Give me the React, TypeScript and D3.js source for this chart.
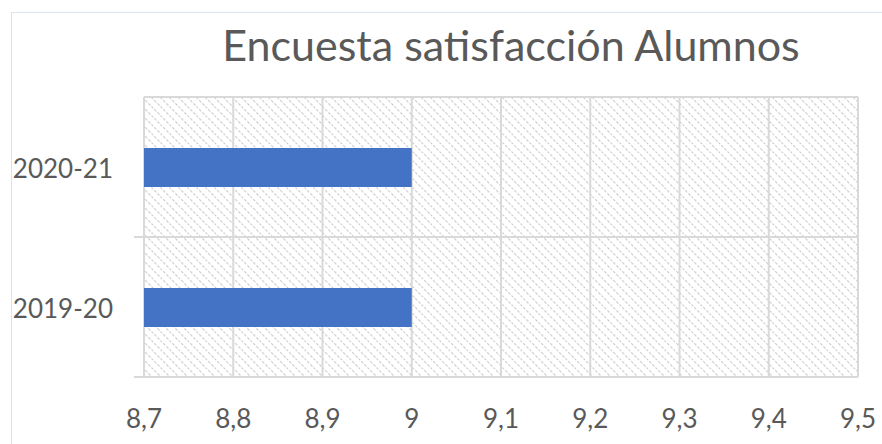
import React, { useEffect, useRef } from 'react';
import * as d3 from 'd3';

const categories = ['2020-21', '2019-20'];
const values = [9, 9];
const xTicks = [8.7, 8.8, 8.9, 9, 9.1, 9.2, 9.3, 9.4, 9.5];
const title = 'Encuesta satisfacción Alumnos';

const W = 882;
const H = 444;

export default function App() {
  const svgRef = useRef<SVGSVGElement>(null);

  useEffect(() => {
    if (!svgRef.current) return;
    const svg = d3.select(svgRef.current);
    svg.selectAll('*').remove();

    const margin = { top: 97, right: 24, bottom: 67, left: 144 };
    const font = "Lato, 'Open Sans', sans-serif";

    const x = d3.scaleLinear()
      .domain([8.7, 9.5])
      .range([margin.left, W - margin.right]);

    const y = d3.scaleBand()
      .domain(categories)
      .range([margin.top, H - margin.bottom])
      .paddingInner(0)
      .paddingOuter(0);

    // hatch pattern for plot background
    const defs = svg.append('defs');
    const pat = defs.append('pattern')
      .attr('id', 'hatch')
      .attr('patternUnits', 'userSpaceOnUse')
      .attr('width', 9)
      .attr('height', 9);
    pat.append('rect').attr('width', 9).attr('height', 9).attr('fill', '#fff');
    pat.append('path')
      .attr('d', 'M-2,-2 L11,11 M-2,7 L2,11 M7,-2 L11,2')
      .attr('stroke', '#d0d0d0')
      .attr('stroke-width', 1.2)
      .attr('stroke-dasharray', '3,1.5');

    // outer chart frame
    svg.append('rect')
      .attr('x', 11.5)
      .attr('y', 12.5)
      .attr('width', W + 10)
      .attr('height', H + 10)
      .attr('fill', '#fff')
      .attr('stroke', '#dae3f3')
      .attr('stroke-width', 1);

    svg.append('rect')
      .attr('x', margin.left)
      .attr('y', margin.top)
      .attr('width', x(9.5) - x(8.7))
      .attr('height', H - margin.bottom - margin.top)
      .attr('fill', 'url(#hatch)');

    // vertical gridlines
    svg.append('g')
      .selectAll('line')
      .data(xTicks)
      .join('line')
      .attr('x1', d => x(d))
      .attr('x2', d => x(d))
      .attr('y1', margin.top)
      .attr('y2', H - margin.bottom)
      .attr('stroke', '#d9d9d9')
      .attr('stroke-width', 2);

    // top border and category separators
    const bounds = [margin.top, ...categories.map(c => (y(c) as number) + y.bandwidth())];
    svg.append('g')
      .selectAll('line')
      .data(bounds)
      .join('line')
      .attr('x1', (d, i) => (i === 0 ? margin.left : margin.left - 10))
      .attr('x2', x(9.5))
      .attr('y1', d => d)
      .attr('y2', d => d)
      .attr('stroke', '#d9d9d9')
      .attr('stroke-width', 2);

    // bars
    const barH = 39;
    svg.append('g')
      .selectAll('rect')
      .data(categories)
      .join('rect')
      .attr('x', x(8.7))
      .attr('y', (d) => (y(d) as number) + y.bandwidth() / 2 - barH / 2 + 0.5)
      .attr('width', (d, i) => x(values[i]) - x(8.7))
      .attr('height', barH)
      .attr('fill', '#4472c4');

    // y labels
    svg.append('g')
      .selectAll('text')
      .data(categories)
      .join('text')
      .attr('x', 113)
      .attr('y', d => (y(d) as number) + y.bandwidth() / 2 + 11)
      .attr('text-anchor', 'end')
      .attr('font-family', font)
      .attr('font-size', 26)
      .attr('fill', '#595959')
      .text(d => d);

    // x labels
    svg.append('g')
      .selectAll('text')
      .data(xTicks)
      .join('text')
      .attr('x', d => x(d))
      .attr('y', 428)
      .attr('text-anchor', 'middle')
      .attr('font-family', font)
      .attr('font-size', 26)
      .attr('fill', '#595959')
      .text(d => d3.format('~g')(d).replace('.', ','));

    svg.append('text')
      .attr('x', 511)
      .attr('y', 61)
      .attr('text-anchor', 'middle')
      .attr('font-family', font)
      .attr('font-size', 43)
      .attr('fill', '#595959')
      .text(title);
  }, []);

  return (
    <div style={{ position: 'fixed', left: 0, top: 0 }}>
      <svg ref={svgRef} width={W} height={H} style={{ display: 'block' }} />
    </div>
  );
}
